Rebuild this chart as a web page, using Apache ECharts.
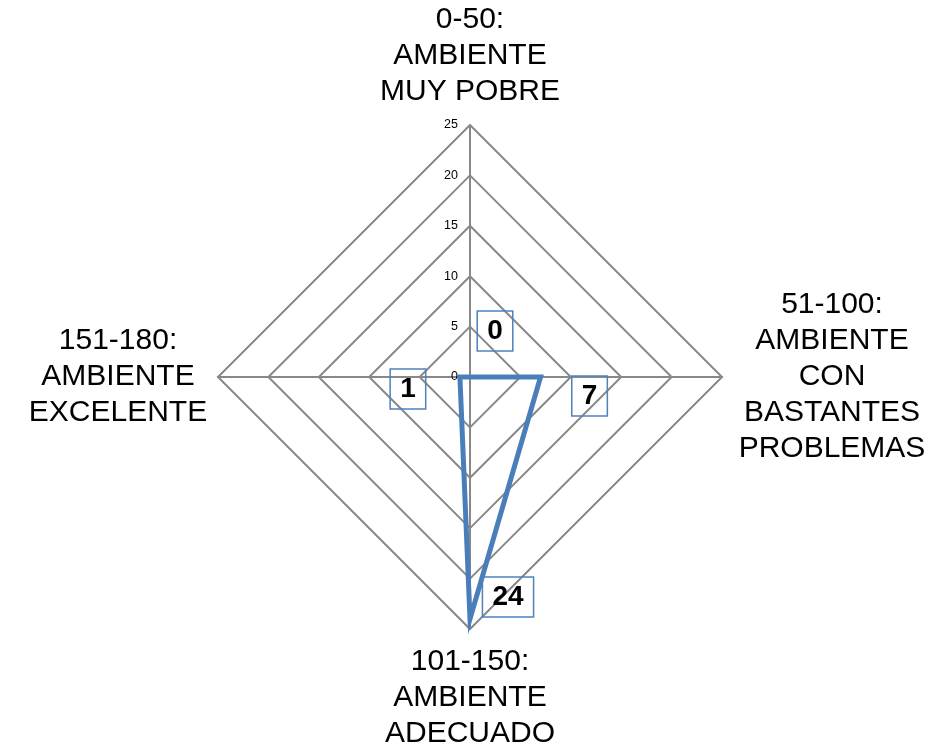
<!DOCTYPE html>
<html>
<head>
<meta charset="utf-8">
<script src="https://cdn.jsdelivr.net/npm/echarts@6/dist/echarts.min.js"></script>
<style>
  html, body { margin: 0; padding: 0; background: #fff; }
  #chart { width: 937px; height: 748px; }
</style>
</head>
<body>
<div id="chart"></div>
<script>
// categories in ECharts drawing order (top, left, bottom, right) and the counts
const categories = [
  '0-50:\nAMBIENTE\nMUY POBRE',
  '151-180:\nAMBIENTE\nEXCELENTE',
  '101-150:\nAMBIENTE\nADECUADO',
  '51-100:\nAMBIENTE\nCON\nBASTANTES\nPROBLEMAS'
]
const values = [0, 1, 24, 7]
const axisMax = 25
const axisSplits = 5

// where each value box sits relative to its point
const boxOffsets = [[25, -46], [-52, 12], [38, -22], [49, 19]]
const nameStyle = ['c', 'l', 'c', 'r']

const chart = echarts.init(document.getElementById('chart'))

const gray = '#888888'
const blue = '#4A7EBB'

const labelItems = values.map((v, i) => {
  return {
    value: values,
    symbol: 'circle',
    symbolSize: 1,
    itemStyle: { color: 'rgba(0,0,0,0)' },
    lineStyle: { width: 0, opacity: 0 },
    label: {
      show: true,
      position: 'inside',
      offset: boxOffsets[i],
      formatter: (params) => {
        return params.value === v ? '{box|' + v + '}' : ''
      },
      rich: {
        box: {
          fontFamily: 'Liberation Sans',
          fontSize: 28,
          fontWeight: 'bold',
          color: '#000',
          lineHeight: 33,
          padding: [6, 10, 6, 10],
          borderColor: '#4F81BD',
          borderWidth: 1.5
        }
      }
    }
  }
})

const option = {
  animation: false,
  radar: {
    center: [470, 377],
    radius: 252,
    startAngle: 90,
    shape: 'polygon',
    splitNumber: axisSplits,
    indicator: categories.map((name, i) => {
      const ind = { name: name, min: 0, max: axisMax }
      // only the top axis carries the scale
      if (i === 0) {
        ind.axisLabel = {
          show: true,
          color: '#000',
          fontFamily: 'Liberation Sans',
          fontSize: 12.5,
          margin: 12
        }
      }
      return ind
    }),
    axisName: {
      color: '#000',
      fontFamily: 'Liberation Sans',
      fontSize: 30,
      lineHeight: 36,
      formatter: (name) => {
        const i = categories.indexOf(name)
        return '{' + nameStyle[i] + '|' + name + '}'
      },
      rich: {
        c: { fontFamily: 'Liberation Sans', fontSize: 30, lineHeight: 36, color: '#000', align: 'center' },
        r: { fontFamily: 'Liberation Sans', fontSize: 30, lineHeight: 36, color: '#000', width: 190, align: 'center' },
        l: { fontFamily: 'Liberation Sans', fontSize: 30, lineHeight: 36, color: '#000', width: 170, align: 'center' }
      }
    },
    nameGap: 15,
    axisLine: { show: true, lineStyle: { color: gray, width: 2 } },
    axisTick: { show: false },
    axisLabel: { show: false },
    splitLine: { lineStyle: { color: gray, width: 2 } },
    splitArea: { show: false }
  },
  series: [
    {
      type: 'radar',
      data: [
        {
          value: values,
          symbol: 'none',
          lineStyle: { color: blue, width: 5, join: 'miter' }
        }
      ].concat(labelItems)
    }
  ]
}

chart.setOption(option)
</script>
</body>
</html>
